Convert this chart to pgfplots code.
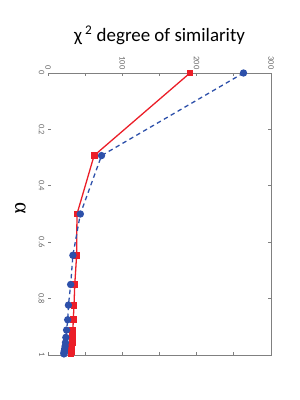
\documentclass[border=0pt]{standalone}
\usepackage{fontspec}
\setmainfont{Carlito}
\newfontfamily\seriffont{Liberation Serif}
\usepackage{pgfplots}
\pgfplotsset{compat=1.18}
\definecolor{myred}{RGB}{235,30,40}
\definecolor{myblue}{RGB}{45,80,170}
\definecolor{axgray}{RGB}{128,128,128}
\definecolor{labgray}{RGB}{105,105,105}
\begin{document}
\begin{tikzpicture}[x=1bp,y=1bp]
\path[use as bounding box] (0,0) rectangle (300,400);
\begin{axis}[
  at={(48bp,45bp)}, anchor=south west, scale only axis,
  width=223bp, height=282bp,
  xmin=0, xmax=300, ymin=0, ymax=1, y dir=reverse,
  clip=false,
  axis line style={draw=none},
  xtick={0,50,100,150,200,250,300},
  xticklabels={0,,100,,200,,300},
  ytick={0,0.2,0.4,0.6,0.8,1},
  yticklabels={0,0.2,0.4,0.6,0.8,1},
  xticklabel pos=upper,
  tick align=inside, major tick length=3bp,
  tick style={axgray, line width=0.8pt},
  /pgf/number format/assume math mode=true,
  tick label style={font=\fontsize{8.5}{9}\selectfont, text=labgray},
  xticklabel style={rotate=-90, anchor=east},
  yticklabel style={rotate=-90, anchor=north},
  ylabel={\seriffont α},
  ylabel style={rotate=180, font=\fontsize{22}{24}\selectfont, xshift=-6bp, yshift=-6bp},
  title={χ\,\textsuperscript{2} degree of similarity},
  title style={font=\fontsize{19}{22}\selectfont, at={(0.5,1)}, anchor=base, yshift=26bp},
]
\draw[axgray, line width=0.8pt] (axis cs:0,0) -- (axis cs:300,0) -- (axis cs:300,1) -- (axis cs:0,1);
\addplot[myred, line width=1.3pt, mark=square*, mark size=2.8bp] table {
x y
191 0
62 0.2929
39 0.5
38.5 0.6464
36 0.75
35 0.8232
34 0.875
33.5 0.9116
33 0.9375
32.5 0.9558
32 0.9688
32 0.9779
31.5 0.9844
31.5 0.9890
31 0.9922
31 0.9945
31 0.9961
};
\addplot[myblue, line width=1.3pt, dash pattern=on 4.5pt off 3.5pt, mark=*, mark size=3bp, mark options={solid}] table {
x y
263 0
72 0.2929
43.5 0.5
33.5 0.6464
30.5 0.75
27.5 0.8232
26.5 0.875
25 0.9116
24 0.9375
23.5 0.9558
23 0.9688
22.5 0.9779
22 0.9844
22 0.9890
21.5 0.9922
21.5 0.9945
21.5 0.9961
};
\end{axis}
\end{tikzpicture}
\end{document}
